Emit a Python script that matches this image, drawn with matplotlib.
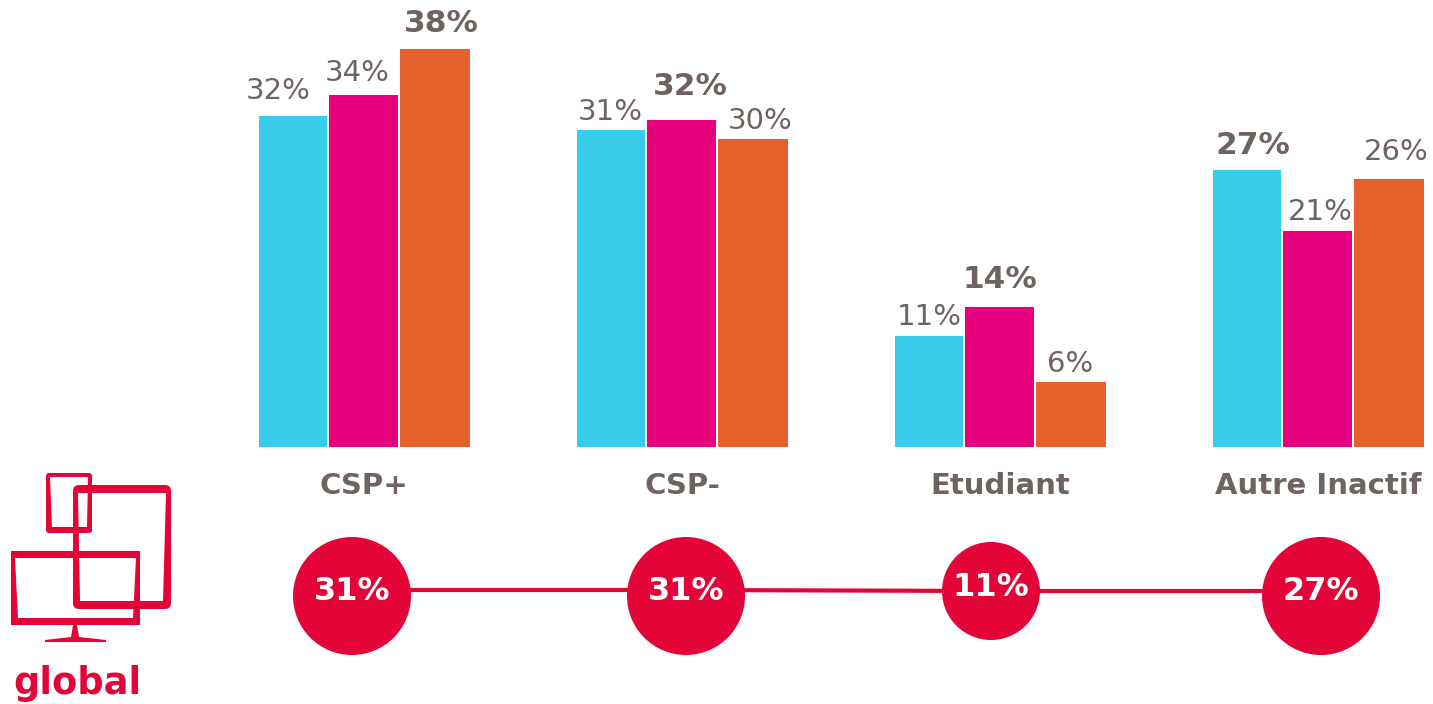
import matplotlib
matplotlib.use('Agg')
import matplotlib.pyplot as plt
from matplotlib.patches import Rectangle, Circle, FancyBboxPatch, PathPatch, Polygon
from matplotlib.path import Path

categories = ['CSP+', 'CSP-', 'Etudiant', 'Autre Inactif']
series_a = [32.0, 30.6, 10.7, 26.8]
series_b = [34.0, 31.6, 13.5, 20.9]
series_c = [38.45, 29.8, 6.3, 25.9]
global_values = [31, 31, 11, 27]
colors = ['#38CCEC', '#E6007E', '#E6602B']
grey = '#6F6361'
red = '#E30438'

# label placement per group, in pixels
label_dx = [[-15, -7, 7], [-1, 8, 8], [0, 0, 0], [5, 2, 8]]
label_dy = [[25, 22, 26], [18, 33, 18], [19, 28, 18], [24, 19, 27]]
global_radius = [59, 59, 49, 59]
group_x = [259, 577, 895, 1213]
cx = [352, 686, 991, 1321]
cy = [596, 596, 591, 596]

plt.rcParams['font.family'] = ['DejaVu Sans']

fig = plt.figure(figsize=(14.33, 7.04), dpi=100)
ax = fig.add_axes([0, 0, 1, 1])
ax.set_xlim(0, 1433)
ax.set_ylim(704, 0)
ax.axis('off')

base = 447
scale = 10.35
step = 70.4

for i, cat in enumerate(categories):
    vals = [series_a[i], series_b[i], series_c[i]]
    top = max(vals)
    for j, v in enumerate(vals):
        h = v * scale
        x = group_x[i] + j * step
        w = 70 if j == 2 else 68.5
        ax.add_patch(Rectangle((x, base - h), w, h, color=colors[j], lw=0))
        # biggest value of the group is bold
        bold = v == top
        ax.text(x + 34.5 + label_dx[i][j], base - h - label_dy[i][j], f'{round(v)}%', ha='center', va='center',
                fontsize=22.5 if bold else 21, color=grey, fontweight='bold' if bold else 'normal')
    ax.text(group_x[i] + 105, 486, cat, ha='center', va='center', fontsize=21, color=grey, fontweight='bold')

# global row
ax.plot(cx, [590, 590, 591, 591], color=red, lw=3, zorder=1)
for x, y, r, v in zip(cx, cy, global_radius, global_values):
    ax.add_patch(Circle((x, y), r, color=red, lw=0, zorder=2))
    ax.text(x, y - 4, f'{v}%', ha='center', va='center', fontsize=23, color='white', fontweight='bold', zorder=3)


def frame(x, y, w, h, radius, inner):
    # outline with a hole, so what is behind it stays visible
    box = FancyBboxPatch((x, y), w, h, boxstyle=f'round,pad=0,rounding_size={radius}')
    hole = Path(inner[::-1] + [inner[-1]], closed=True)
    path = Path.make_compound_path(box.get_path(), hole)
    ax.add_patch(PathPatch(path, fc=red, lw=0))


# device icon
frame(46, 473, 46, 60, 3, [(50, 477), (88, 477), (87, 527), (52, 527)])
frame(73, 485, 98, 124, 6, [(78, 493), (166, 493), (163, 601), (80, 601)])
frame(11, 551, 129, 74, 0.1, [(15, 558), (136, 558), (133, 618), (18, 618)])
ax.add_patch(Polygon([(73, 625), (77, 625), (79, 637), (106, 640), (106, 642), (45, 642), (45, 640), (71, 637)],
                     fc=red, lw=0))
ax.text(77, 683, 'global', ha='center', va='center', fontsize=26.5, color=red, fontweight='bold')

fig.savefig('out.png', dpi=100)
